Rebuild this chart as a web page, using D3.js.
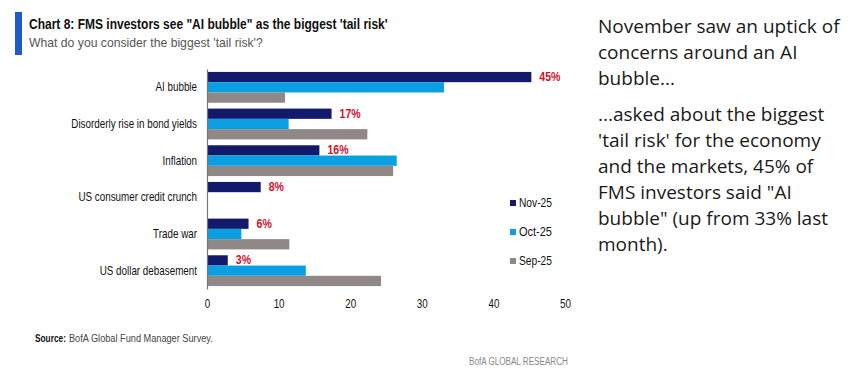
<!DOCTYPE html>
<html><head><meta charset="utf-8">
<script src="https://cdn.jsdelivr.net/npm/d3@7"></script>
<style>
html,body{margin:0;padding:0;background:#fff;}
svg{display:block;}
</style></head>
<body>
<svg id="chart" width="865" height="382"></svg>
<script>
const categories = ["AI bubble","Disorderly rise in bond yields","Inflation","US consumer credit crunch","Trade war","US dollar debasement"];
const seriesNames = ["Nov-25","Oct-25","Sep-25"];
const nov25 = [45.3, 17.4, 15.7, 7.5, 5.8, 2.9];
const oct25 = [33.1, 11.4, 26.5, 0, 4.8, 13.8];
const sep25 = [10.9, 22.4, 26.0, 0, 11.5, 24.3];
const novLabels = ["45%","17%","16%","8%","6%","3%"];
const xTicks = [0,10,20,30,40,50];
const colors = ["#141a6b","#0a9fe2","#908787"];

const svg = d3.select("#chart");
const series = [nov25, oct25, sep25];
const SX = 0.82;

// helper: condensed text fitted to a width via horizontal scale
function fitText(sel, x0, w) {
  const n = sel.node();
  const natural = n.getComputedTextLength();
  const k = w / natural;
  sel.attr("x", x0 / k).attr("transform", `scale(${k},1)`);
  return sel;
}

// Title block
svg.append("rect").attr("x",15).attr("y",12).attr("width",7).attr("height",43).attr("fill","#1f5bc7");
fitText(svg.append("text").attr("y",29)
  .attr("font-family","'Liberation Sans',Arial,sans-serif")
  .attr("font-weight","bold").attr("font-size",14).attr("fill","#111")
  .text("Chart 8: FMS investors see \"AI bubble\" as the biggest 'tail risk'"), 29, 359);
fitText(svg.append("text").attr("y",47)
  .attr("font-family","'Liberation Sans',Arial,sans-serif")
  .attr("font-size",13).attr("fill","#555")
  .text("What do you consider the biggest 'tail risk'?"), 29, 234);

const x = d3.scaleLinear().domain([0,50]).range([207,565]);
const y0 = d3.scaleBand().domain(categories).range([69,289]).paddingInner(0.16).paddingOuter(0.08);
const y1 = d3.scaleBand().domain(seriesNames).range([0,y0.bandwidth()]);

const g = svg.append("g");
categories.forEach((c,i)=>{
  seriesNames.forEach((s,j)=>{
    const v = series[j][i];
    if (v>0) g.append("rect")
      .attr("x",x(0)).attr("y",y0(c)+y1(s))
      .attr("width",x(v)-x(0)).attr("height",y1.bandwidth())
      .attr("fill",colors[j]);
  });
  const lx = x(nov25[i])+8;
  g.append("text").attr("x",lx).attr("y",y0(c)+y1("Nov-25")+y1.bandwidth()/2)
    .attr("dy","0.32em").attr("font-family","'Liberation Sans',Arial,sans-serif")
    .attr("font-weight","bold").attr("font-size",12).attr("fill","#d0112b")
    .attr("transform",`translate(${lx},0) scale(0.88,1) translate(${-lx},0)`)
    .text(novLabels[i]);
});

// category axis
const yAxis = d3.axisLeft(y0).tickSize(0).tickPadding(10);
const ya = svg.append("g").attr("transform",`translate(${x(0)},0)`).call(yAxis);
ya.select(".domain").attr("stroke","#777").attr("stroke-width",1.2);
ya.selectAll(".tick text").attr("font-family","'Liberation Sans',Arial,sans-serif").attr("font-size",12).attr("fill","#111")
  .attr("x",-10/SX).attr("transform",`scale(${SX},1)`);

// x axis (labels only)
const xAxis = d3.axisBottom(x).tickValues(xTicks).tickSize(0).tickPadding(10);
const xa = svg.append("g").attr("transform","translate(0,289)").call(xAxis);
xa.select(".domain").remove();
xa.selectAll(".tick text").attr("font-family","'Liberation Sans',Arial,sans-serif").attr("font-size",12).attr("fill","#111")
  .attr("transform",`scale(${SX},1)`);

// legend
const leg = svg.append("g");
seriesNames.forEach((s,j)=>{
  const ly = 203 + j*29;
  leg.append("rect").attr("x",510).attr("y",ly-3).attr("width",6).attr("height",6).attr("fill",colors[j]);
  fitText(leg.append("text").attr("y",ly).attr("dy","0.35em")
    .attr("font-family","'Liberation Sans',Arial,sans-serif").attr("font-size",12).attr("fill","#111")
    .text(s), 519, 33);
});

// source
fitText(svg.append("text").attr("y",342)
  .attr("font-family","'Liberation Sans',Arial,sans-serif").attr("font-size",11).attr("font-weight","bold").attr("fill","#111")
  .text("Source:"), 35, 31);
fitText(svg.append("text").attr("y",342)
  .attr("font-family","'Liberation Sans',Arial,sans-serif").attr("font-size",11).attr("fill","#444")
  .text("BofA Global Fund Manager Survey."), 69, 144);
fitText(svg.append("text").attr("y",365)
  .attr("font-family","'Liberation Sans',Arial,sans-serif").attr("font-size",11).attr("fill","#888")
  .text("BofA GLOBAL RESEARCH"), 469, 99);

// right commentary
const para = [
  ["November saw an uptick of","concerns around an AI","bubble..."],
  ["...asked about the biggest","'tail risk' for the economy","and the markets, 45% of","FMS investors said \"AI","bubble\" (up from 33% last","month)."]
];
const tg = svg.append("g").attr("font-family","'Open Sans','Noto Sans',sans-serif").attr("font-size",19).attr("fill","#1a1a1a");
let yy = 33;
para.forEach((p,pi)=>{
  p.forEach((line,li)=>{
    tg.append("text").attr("x",598).attr("y",yy).text(line);
    yy += 26;
  });
  yy += 10;
});
</script>
</body></html>
